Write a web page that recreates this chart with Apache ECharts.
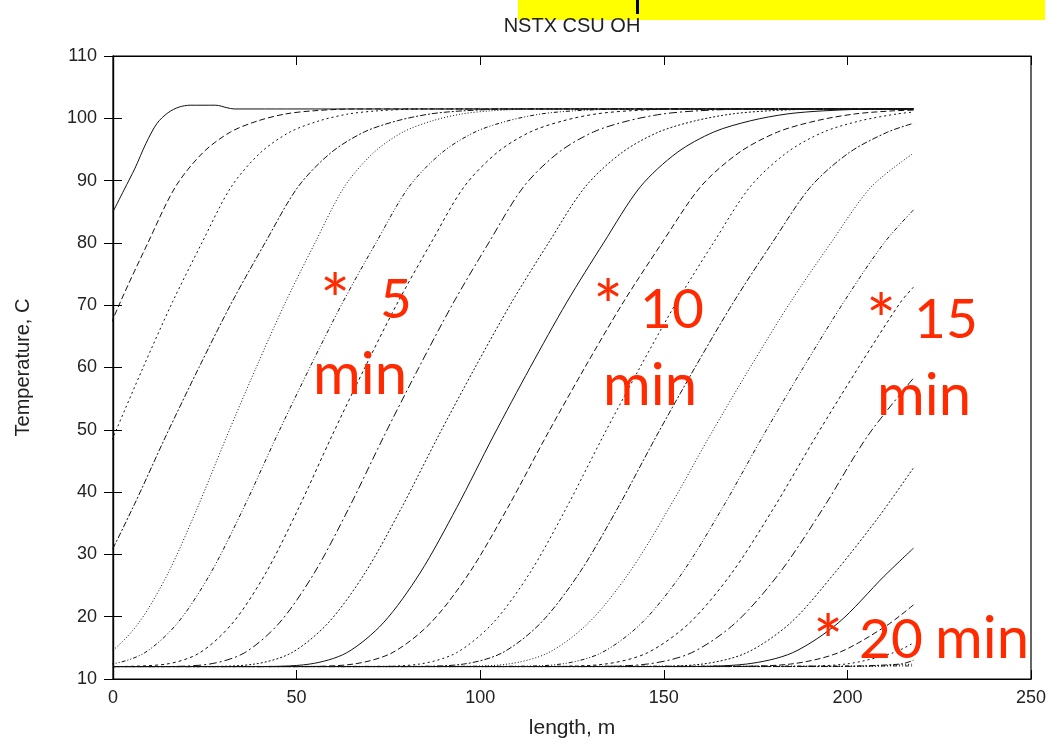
<!DOCTYPE html>
<html>
<head>
<meta charset="utf-8">
<title>NSTX CSU OH</title>
<script src="https://cdn.jsdelivr.net/npm/echarts/dist/echarts.min.js"></script>
<style>
  html,body{margin:0;padding:0;background:#fff;}
  #chart{width:1058px;height:744px;}
</style>
</head>
<body>
<div id="chart"></div>
<script>
//每条曲线 [长度 m, 温度 C]
var c01 = [[0,85],[3,88.5],[6,92],[9,96],[12,99.2],[15,100.9],[18,101.8],[21,102.1],[28,102.1],[31,101.7],[33,101.5],[218,101.5]];
var c02 = [[-20.5,37.5],[-13,49],[-5.5,60],[2,70.5],[9.5,80],[17,89],[24.5,94.5],[32,97.8],[39.5,99.6],[47,100.7],[54.5,101.2],[65.8,101.5],[218,101.5]];
var c03 = [[-15.8,27],[-7.8,37.5],[0.2,49],[8.2,60],[16.2,70.5],[24.2,80],[32.2,89],[40.2,94.5],[48.2,97.8],[56.2,99.6],[64.2,100.7],[72.2,101.2],[84.2,101.5],[218,101.5]];
var c04 = [[-21.6,14.2],[-12.6,19],[-3.6,27],[5.4,37.5],[14.4,49],[23.4,60],[32.4,70.5],[41.4,80],[50.4,89],[59.4,94.5],[68.4,97.8],[77.4,99.6],[86.4,100.7],[95.4,101.2],[108.9,101.5],[218,101.5]];
var c05 = [[-9,12.4],[-1,14.2],[7,19],[15,27],[23,37.5],[31,49],[39,60],[47,70.5],[55,80],[63,89],[71,94.5],[79,97.8],[87,99.6],[95,100.7],[103,101.2],[115,101.5],[218,101.5]];
var c06 = [[-13.9,12],[-0.4,12.4],[8.6,14.2],[17.6,19],[26.6,27],[35.6,37.5],[44.6,49],[53.6,60],[62.6,70.5],[71.6,80],[80.6,89],[89.6,94.5],[98.6,97.8],[107.6,99.6],[116.6,100.7],[125.6,101.2],[139.1,101.5],[218,101.5]];
var c07 = [[0,12],[14.6,12.4],[23.6,14.2],[32.6,19],[41.6,27],[50.6,37.5],[59.6,49],[68.6,60],[77.6,70.5],[86.6,80],[95.6,89],[104.6,94.5],[113.6,97.8],[122.6,99.6],[131.6,100.7],[140.6,101.2],[154.1,101.5],[218,101.5]];
var c08 = [[0,12],[12,12],[26.3,12.4],[35.8,14.2],[45.3,19],[54.8,27],[64.3,37.5],[73.8,49],[83.3,60],[92.8,70.5],[102.3,80],[111.8,89],[121.3,94.5],[130.8,97.8],[140.3,99.6],[149.8,100.7],[159.3,101.2],[173.5,101.5],[218,101.5]];
var c09 = [[0,12],[23.6,12],[38.6,12.4],[48.6,14.2],[58.6,19],[68.6,27],[78.6,37.5],[88.6,49],[98.6,60],[108.6,70.5],[118.6,80],[128.6,89],[138.6,94.5],[148.6,97.8],[158.6,99.6],[168.6,100.7],[178.6,101.2],[193.6,101.5],[218,101.5]];
var c10 = [[0,12],[38.6,12],[53.6,12.4],[63.6,14.2],[73.6,19],[83.6,27],[93.6,37.5],[103.6,49],[113.6,60],[123.6,70.5],[133.6,80],[143.6,89],[153.6,94.5],[163.6,97.8],[173.6,99.6],[183.6,100.7],[193.6,101.2],[208.6,101.5],[218,101.5]];
var c11 = [[0,12],[49.8,12],[65.5,12.4],[76,14.2],[86.5,19],[97,27],[107.5,37.5],[118,49],[128.5,60],[139,70.5],[149.5,80],[160,89],[170.5,94.5],[181,97.8],[191.5,99.6],[202,100.7],[212.5,101.2],[218,101.3]];
var c12 = [[0,12],[68.5,12],[83.5,12.4],[93.5,14.2],[103.5,19],[113.5,27],[123.5,37.5],[133.5,49],[143.5,60],[153.5,70.5],[163.5,80],[173.5,89],[183.5,94.5],[193.5,97.8],[203.5,99.6],[213.5,100.7],[218,101.0]];
var c13 = [[0,12],[79.8,12],[95.5,12.4],[106,14.2],[116.5,19],[127,27],[137.5,37.5],[148,49],[158.5,60],[169,70.5],[179.5,80],[190,89],[200.5,94.5],[211,97.8],[218,99.2]];
var c14 = [[0,12],[91,12],[107.5,12.4],[118.5,14.2],[129.5,19],[140.5,27],[151.5,37.5],[162.5,49],[173.5,60],[184.5,70.5],[195.5,80],[206.5,89],[218,94.4]];
var c15 = [[0,12],[105.5,12],[122,12.4],[133,14.2],[144,19],[155,27],[166,37.5],[177,49],[188,60],[199,70.5],[210,80],[218,85.3]];
var c16 = [[0,12],[116.8,12],[134,12.4],[145.5,14.2],[157,19],[168.5,27],[180,37.5],[191.5,49],[203,60],[214.5,70.5],[218,72.9]];
var c17 = [[0,12],[127.5,12],[145.5,12.4],[157.5,14.2],[169.5,19],[181.5,27],[193.5,37.5],[205.5,49],[218,58.3]];
var c18 = [[0,12],[142.5,12],[160.5,12.4],[172.5,14.2],[184.5,19],[196.5,27],[208.5,36],[218,43.9]];
var c19 = [[0,12],[153.8,12],[172.5,12.4],[185,14.2],[197.5,19],[210,26.5],[218,31]];
var c20 = [[0,12],[165,12],[184.5,12.4],[197.5,14.2],[210.5,18.5],[218,21.9]];
var c21 = [[0,12],[180,12],[199.5,12.4],[212.5,14.2],[218,15.8]];
var c22 = [[0,12],[195,12],[214.5,12.4],[218,13.0]];
var c23 = [[0,12],[205,12],[218,12.4]];
var c24 = [[0,12],[218,12.1]];

var curves = [c01,c02,c03,c04,c05,c06,c07,c08,c09,c10,c11,c12,c13,c14,c15,c16,c17,c18,c19,c20,c21,c22,c23,c24];

//gnuplot 的线型循环，9 种
var dashTypes = ['solid',[6,3],[2,3],[6,2,2,2],[1,2],[4,2,1,2,1,2],[3,3],[8,3,2,3],[2,2]];

//红色标注
var notes = [
	{t:'*', x:320, y:303, s:71}, {t:'5', x:380, y:300, s:55}, {t:'min', x:313, y:375, s:58},
	{t:'*', x:593, y:309, s:71}, {t:'10', x:640, y:310, s:55}, {t:'min', x:603, y:386, s:58},
	{t:'*', x:866, y:323, s:71}, {t:'15', x:914, y:320, s:55}, {t:'min', x:877, y:396, s:58},
	{t:'*', x:813, y:644, s:71}, {t:'20', x:859, y:640, s:55}, {t:'min', x:935, y:639, s:58}
];

var series = [];
for (var i = 0; i < curves.length; i++) {
	series.push({
		type: 'line',
		name: 'c' + (i + 1),
		data: curves[i],
		showSymbol: false,
		smooth: 0.3,
		clip: true,
		silent: true,
		lineStyle: {color: '#111', width: 1, type: dashTypes[i % dashTypes.length]}
	});
}

var graphics = [
	{type:'rect', shape:{x:518, y:0, width:527, height:20}, style:{fill:'#ffff00'}},
	{type:'rect', shape:{x:636, y:0, width:3, height:14}, style:{fill:'#000'}},
	{type:'text', x:572, y:26, style:{text:'NSTX CSU OH', font:'20px "Liberation Sans"', fill:'#222', textAlign:'center', textVerticalAlign:'middle'}}
];
for (var j = 0; j < notes.length; j++) {
	graphics.push({
		type: 'text', x: notes[j].x, y: notes[j].y, z: 100,
		style: {text: notes[j].t, font: notes[j].s + 'px Lato', fill: '#ff2a00', textAlign: 'left', textVerticalAlign: 'middle'}
	});
}

var tickStyle = {show:true, inside:true, length:9, lineStyle:{color:'#000', width:1}};
var lineStyleAxis = {show:true, lineStyle:{color:'#000', width:1.2}};

var option = {
	animation: false,
	backgroundColor: '#fff',
	grid: {left:113, right:27, top:56, bottom:65, show:true, borderColor:'#000', borderWidth:1.2},
	xAxis: [{
		type:'value', min:0, max:250, interval:50,
		axisLine: lineStyleAxis, axisTick: tickStyle, splitLine:{show:false},
		axisLabel: {fontFamily:'Liberation Sans', fontSize:18, color:'#222', margin:10},
		name:'length, m', nameLocation:'middle', nameGap:39,
		nameTextStyle:{fontFamily:'Liberation Sans', fontSize:21, color:'#222'}
	}, {
		type:'value', position:'top', min:0, max:250, interval:50,
		axisLine: lineStyleAxis, axisTick: tickStyle, splitLine:{show:false}, axisLabel:{show:false}
	}],
	yAxis: [{
		type:'value', min:10, max:110, interval:10,
		axisLine: lineStyleAxis, axisTick: tickStyle, splitLine:{show:false},
		axisLabel: {fontFamily:'Liberation Sans', fontSize:18, color:'#222', margin:16},
		name:'Temperature, C', nameLocation:'middle', nameGap:80,
		nameTextStyle:{fontFamily:'Liberation Sans', fontSize:20, color:'#222'}
	}, {
		type:'value', position:'right', min:10, max:110, interval:10,
		axisLine: lineStyleAxis, axisTick: tickStyle, splitLine:{show:false}, axisLabel:{show:false}
	}],
	series: series,
	graphic: graphics
};

var myChart = echarts.init(document.getElementById('chart'));
myChart.setOption(option);
</script>
</body>
</html>
